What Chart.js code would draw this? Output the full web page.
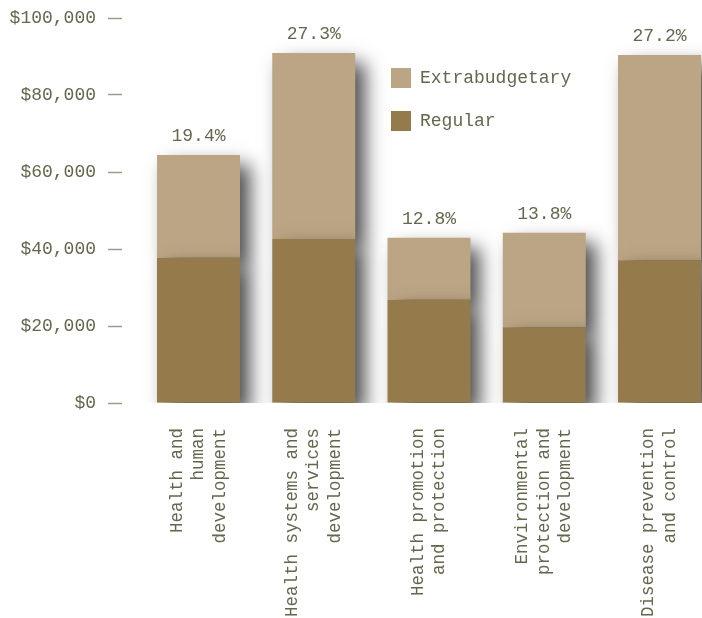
<!DOCTYPE html>
<html>
<head>
<meta charset="utf-8">
<script src="https://cdn.jsdelivr.net/npm/chart.js@4"></script>
<style>
  html, body { margin: 0; padding: 0; background: #ffffff; }
  canvas { display: block; }
</style>
</head>
<body>
<canvas id="budgetChart" width="702" height="618"></canvas>
<script>
// data
const categories = [
  ["Health and", "human", "development"],
  ["Health systems and", "services", "development"],
  ["Health promotion", "and protection"],
  ["Environmental", "protection and", "development"],
  ["Disease prevention", "and control"]
];
const regularValues = [37700, 42600, 26800, 19700, 37100];
const extraValues = [26700, 48300, 16100, 24500, 53300];
const shareLabels = ["19.4%", "27.3%", "12.8%", "13.8%", "27.2%"];
const yTicks = [0, 20000, 40000, 60000, 80000, 100000];

const FONT = "'Courier New', 'Liberation Mono', monospace";
const TEXT = "#66664f";
const LINE = 21.6;

const barShadow = {
  id: "barShadow",
  beforeDatasetsDraw(chart) {
    const ctx = chart.ctx;
    ctx.save();
    ctx.shadowColor = "rgba(0,0,0,0.7)";
    ctx.shadowBlur = 18;
    ctx.shadowOffsetX = 10;
    ctx.shadowOffsetY = 10;
  },
  afterDatasetsDraw(chart) {
    const ctx = chart.ctx;
    ctx.restore();
    // share labels above each stack
    const top = chart.getDatasetMeta(1);
    ctx.save();
    ctx.font = "18px " + FONT;
    ctx.fillStyle = TEXT;
    ctx.textAlign = "center";
    ctx.textBaseline = "bottom";
    top.data.forEach((bar, i) => {
      ctx.fillText(shareLabels[i], bar.x, bar.y - 10);
    });
    ctx.restore();
  }
};

const placeBoxes = {
  id: "placeBoxes",
  afterLayout(chart) {
    const lg = chart.legend;
    const w = lg.width, h = lg.height;
    lg.left = 368;
    lg.top = 45;
    lg.right = lg.left + w;
    lg.bottom = lg.top + h;
    lg.adjustHitBoxes();
    // the zero-height second axis still needs room for its labels
    chart.scales.x2.bottom = chart.height;
  }
};

// the category names are split over two bottom axes so that
// three-line and two-line names can each be centred on their bar
const tickLabels = (lines) => (v) =>
  (Number.isInteger(v) && categories[v] && categories[v].length === lines) ? categories[v] : null;

const xTicks = (lines) => ({
  stepSize: 1,
  includeBounds: false,
  autoSkip: false,
  minRotation: 90,
  maxRotation: 90,
  padding: 25,
  labelOffset: -(lines - 1) * LINE / 2,
  color: TEXT,
  font: { family: FONT, size: 17.5, lineHeight: LINE / 17.5 },
  callback: tickLabels(lines)
});

new Chart(document.getElementById("budgetChart"), {
  type: "bar",
  data: {
    datasets: [
      {
        label: "Regular",
        data: regularValues.map((v, i) => ({ x: i, y: v })),
        backgroundColor: "#957a4c"
      },
      {
        label: "Extrabudgetary",
        data: extraValues.map((v, i) => ({ x: i, y: v })),
        backgroundColor: "#bba584"
      }
    ]
  },
  options: {
    responsive: false,
    animation: false,
    layout: { padding: { top: 18, left: 0, right: 0, bottom: 0 } },
    plugins: {
      tooltip: { enabled: false },
      legend: {
        position: "chartArea",
        align: "start",
        reverse: true,
        labels: {
          boxWidth: 20,
          boxHeight: 20,
          padding: 23,
          color: TEXT,
          font: { family: FONT, size: 18 }
        }
      }
    },
    scales: {
      x: {
        type: "linear",
        position: "bottom",
        weight: 1,
        stacked: true,
        offset: false,
        min: -0.6638,
        max: 4.3687,
        grid: { display: false, drawTicks: false },
        border: { display: false },
        ticks: xTicks(3),
        afterFit(scale) {
          scale.height = 215;
          scale.paddingLeft = 0;
          scale.paddingRight = 0;
        }
      },
      x2: {
        type: "linear",
        position: "bottom",
        weight: -1,
        offset: false,
        min: -0.6638,
        max: 4.3687,
        grid: { display: false, drawTicks: false },
        border: { display: false },
        ticks: xTicks(2),
        afterFit(scale) {
          scale.height = 0;
          scale.paddingLeft = 0;
          scale.paddingRight = 0;
        }
      },
      y: {
        stacked: true,
        min: 0,
        max: 100000,
        grid: { drawOnChartArea: false, tickLength: 14, tickWidth: 1.5, tickColor: "#9c9c8c" },
        border: { display: false },
        afterBuildTicks(scale) {
          scale.ticks = yTicks.map((v) => ({ value: v }));
        },
        ticks: {
          padding: 12,
          color: TEXT,
          font: { family: FONT, size: 18 },
          callback: (v) => "$" + v.toLocaleString("en-US")
        },
        afterFit(scale) {
          scale.width = 122;
          scale.paddingTop = 0;
          scale.paddingBottom = 0;
        }
      }
    }
  },
  plugins: [barShadow, placeBoxes]
});
</script>
</body>
</html>
